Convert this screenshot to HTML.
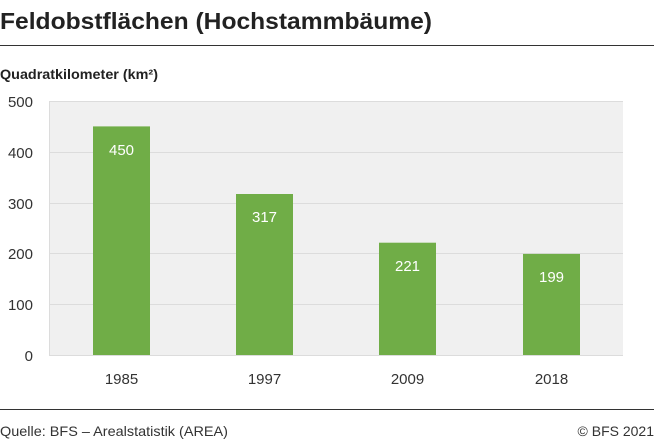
<!DOCTYPE html>
<html><head><style>
body{margin:0;width:654px;height:439px;background:#fff;font-family:"Liberation Sans",sans-serif;overflow:hidden}
</style></head><body>
<svg width="654" height="439" xmlns="http://www.w3.org/2000/svg" font-family="Liberation Sans, sans-serif">
<text x="0" y="29" font-size="23.5" font-weight="bold" fill="#222" textLength="432" lengthAdjust="spacingAndGlyphs">Feldobstflächen (Hochstammbäume)</text>
<line x1="0" y1="45.5" x2="654" y2="45.5" stroke="#333" stroke-width="1"/>
<text x="0" y="79" font-size="14" font-weight="bold" fill="#222" textLength="158" lengthAdjust="spacingAndGlyphs">Quadratkilometer (km²)</text>
<rect x="49" y="101" width="574" height="254" fill="#f0f0f0"/>
<g stroke="#dcdcdc" stroke-width="1">
<line x1="49" y1="101.5" x2="623" y2="101.5"/>
<line x1="49" y1="152.5" x2="623" y2="152.5"/>
<line x1="49" y1="203.5" x2="623" y2="203.5"/>
<line x1="49" y1="253.5" x2="623" y2="253.5"/>
<line x1="49" y1="304.5" x2="623" y2="304.5"/>
<line x1="49" y1="355.5" x2="623" y2="355.5"/>
<line x1="49.5" y1="101" x2="49.5" y2="355"/>
</g>
<g font-size="15" fill="#333" text-anchor="end">
<text x="33" y="107">500</text><text x="33" y="158">400</text><text x="33" y="209">300</text>
<text x="33" y="259">200</text><text x="33" y="310">100</text><text x="33" y="361">0</text>
</g>
<g fill="#70ad47">
<rect x="93" y="126.4" width="57" height="228.6"/>
<rect x="236" y="194" width="57" height="161"/>
<rect x="379" y="242.7" width="57" height="112.3"/>
<rect x="523" y="253.9" width="57" height="101.1"/>
</g>
<g font-size="15" fill="#fff" text-anchor="middle">
<text x="121.5" y="155">450</text><text x="264.5" y="222">317</text>
<text x="407.5" y="271">221</text><text x="551.5" y="282">199</text>
</g>
<g font-size="15" fill="#333" text-anchor="middle">
<text x="121.5" y="384">1985</text><text x="264.5" y="384">1997</text>
<text x="407.5" y="384">2009</text><text x="551.5" y="384">2018</text>
</g>
<line x1="0" y1="409.5" x2="654" y2="409.5" stroke="#333" stroke-width="1"/>
<text x="0" y="436" font-size="14" fill="#333" textLength="228" lengthAdjust="spacingAndGlyphs">Quelle: BFS – Arealstatistik (AREA)</text>
<text x="654" y="436" font-size="14" fill="#333" text-anchor="end">© BFS 2021</text>
</svg>
</body></html>
